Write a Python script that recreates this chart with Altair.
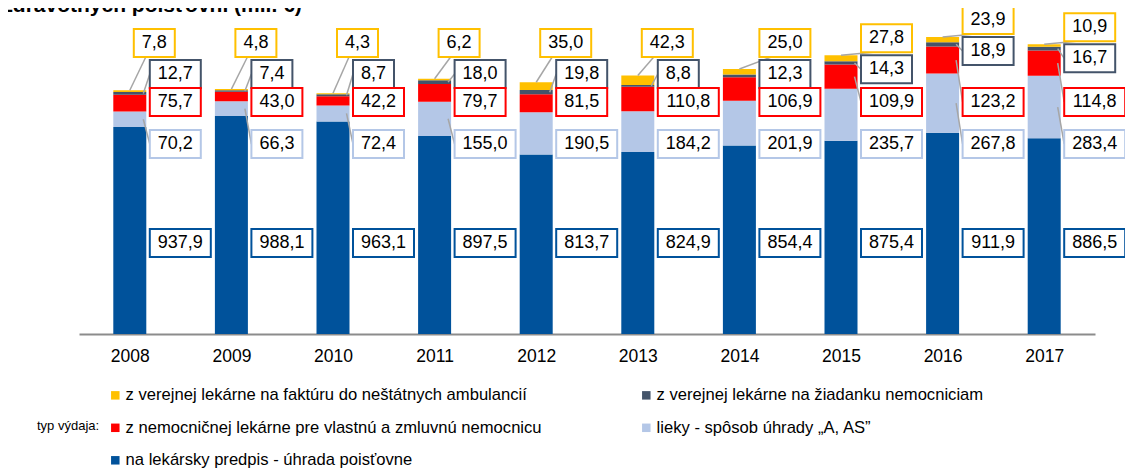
import altair as alt
import pandas as pd

# ---------------- data ----------------
years = [2008, 2009, 2010, 2011, 2012, 2013, 2014, 2015, 2016, 2017]

s_yellow = [7.8, 4.8, 4.3, 6.2, 35.0, 42.3, 25.0, 27.8, 23.9, 10.9]
s_dark = [12.7, 7.4, 8.7, 18.0, 19.8, 8.8, 12.3, 14.3, 18.9, 16.7]
s_red = [75.7, 43.0, 42.2, 79.7, 81.5, 110.8, 106.9, 109.9, 123.2, 114.8]
s_lightblue = [70.2, 66.3, 72.4, 155.0, 190.5, 184.2, 201.9, 235.7, 267.8, 283.4]
s_blue = [937.9, 988.1, 963.1, 897.5, 813.7, 824.9, 854.4, 875.4, 911.9, 886.5]

series_names = [
    "z verejnej lekárne na faktúru do neštátnych ambulancií",
    "z verejnej lekárne na žiadanku nemocniciam",
    "z nemocničnej lekárne pre vlastnú a zmluvnú nemocnicu",
    "lieky - spôsob úhrady „A, AS”",
    "na lekársky predpis - úhrada poisťovne",
]
series_colors = ["#FFC000", "#44546A", "#FF0000", "#B4C7E7", "#00529B"]
series_values = [s_yellow, s_dark, s_red, s_lightblue, s_blue]

title_text = "Zdravotných poisťovní (mil. €)"
legend_caption = "typ výdaja:"

# ---------------- layout constants ----------------
FONT = "Liberation Sans"
PLOT_W = 1016
PLOT_H = 309
Y_MAX = 1400
X_MIN, X_MAX = 2007.5, 2017.5
XU = (X_MAX - X_MIN) / PLOT_W      # year-units per pixel
YU = Y_MAX / PLOT_H                # value-units per pixel
BAR_W = 33
BOX_H = 28


def ypx_to_units(py):
    return (PLOT_H - py) * YU


def units_to_ypx(u):
    return PLOT_H - u / YU


def fmt(v):
    return f"{v:.1f}".replace(".", ",")


def text_w(s):
    return sum(5.0 if ch == "," else 10.0 for ch in s)


# stacking order: bottom -> top
stack_order = [4, 3, 2, 1, 0]  # indices into series lists (blue first)

bar_rows = []
label_rows = []
line_rows = []
for i, yr in enumerate(years):
    cum = 0.0
    seg = {}
    for k, si in enumerate(stack_order):
        v = series_values[si][i]
        bar_rows.append({"year": yr, "series": series_names[si], "value": v, "ord": k})
        seg[si] = (cum, cum + v)
        cum += v
    top_py = units_to_ypx(cum)
    yellow_py = min(18, top_py - 17)
    rows_py = {0: yellow_py, 1: yellow_py + 31, 2: 77, 3: 119, 4: 218}
    for si in range(5):
        v = series_values[si][i]
        lab = fmt(v)
        bw = text_w(lab) + 16
        if si == 0:
            # yellow label sits above the bar when there is room, further right otherwise
            off = 4 if top_py > 45 else 20
        else:
            off = 20
        py = rows_py[si]
        x1 = yr + off * XU
        x2 = yr + (off + bw) * XU
        label_rows.append({
            "series": series_names[si], "label": lab,
            "x1": x1, "x2": x2, "xc": (x1 + x2) / 2,
            "yc": ypx_to_units(py),
            "y1": ypx_to_units(py + BOX_H / 2), "y2": ypx_to_units(py - BOX_H / 2),
        })
        lo, hi = seg[si]
        if si == 0:
            line_rows.append({"lx1": yr, "ly1": hi,
                              "lx2": yr + (off + 12) * XU, "ly2": ypx_to_units(py + BOX_H / 2)})
        else:
            lo_py, hi_py = units_to_ypx(lo), units_to_ypx(hi)
            if py < hi_py - 4 or py > lo_py + 4:
                mid = (lo + hi) / 2
                line_rows.append({"lx1": yr + (BAR_W / 2 - 3) * XU, "ly1": mid,
                                  "lx2": x1, "ly2": ypx_to_units(py)})

bars_df = pd.DataFrame(bar_rows)
labels_df = pd.DataFrame(label_rows)
lines_df = pd.DataFrame(line_rows)

# legend is filled column by column: column 1 = yellow, red, blue; column 2 = dark, light blue
legend_order = [0, 2, 4, 1, 3]
legend_domain = [series_names[j] for j in legend_order]
legend_range = [series_colors[j] for j in legend_order]

xscale = alt.Scale(domain=[X_MIN, X_MAX], nice=False, zero=False, padding=0)
yscale = alt.Scale(domain=[0, Y_MAX], nice=False)
cscale = alt.Scale(domain=legend_domain, range=legend_range)

bars = alt.Chart(bars_df).mark_bar(size=BAR_W).encode(
    x=alt.X("year:Q", scale=xscale, title=None,
            axis=alt.Axis(values=years, format="d", grid=False, ticks=False,
                          domainColor="#8C8C8C", domainWidth=2,
                          labelFont=FONT, labelFontSize=17.5, labelColor="#000000",
                          labelPadding=13)),
    y=alt.Y("value:Q", stack="zero", scale=yscale, axis=None),
    color=alt.Color("series:N", scale=cscale,
                    legend=alt.Legend(orient="none", legendX=28, legendY=362,
                                      columns=2, title=None, padding=0,
                                      symbolType="square", symbolSize=72,
                                      symbolStrokeWidth=0,
                                      labelFont=FONT, labelFontSize=16.6,
                                      labelColor="#000000", labelLimit=0,
                                      labelOffset=2,
                                      columnPadding=96, rowPadding=15.5)),
    order=alt.Order("ord:Q", sort="ascending"),
)

lines = alt.Chart(lines_df).mark_rule(color="#A6A6A6", strokeWidth=1.5).encode(
    x=alt.X("lx1:Q", scale=xscale, title=None),
    x2="lx2:Q",
    y=alt.Y("ly1:Q", scale=yscale, axis=None),
    y2="ly2:Q",
)

boxes = alt.Chart(labels_df).mark_rect(fill="white", strokeWidth=2).encode(
    x=alt.X("x1:Q", scale=xscale, title=None),
    x2="x2:Q",
    y=alt.Y("y1:Q", scale=yscale, axis=None),
    y2="y2:Q",
    stroke=alt.Stroke("series:N", scale=cscale, legend=None),
)

texts = alt.Chart(labels_df).mark_text(font=FONT, fontSize=18, color="#000000",
                                       align="center", baseline="middle").encode(
    x=alt.X("xc:Q", scale=xscale, title=None),
    y=alt.Y("yc:Q", scale=yscale, axis=None),
    text="label:N",
)

caption = alt.Chart(pd.DataFrame({"t": [legend_caption]})).mark_text(
    font=FONT, fontSize=13, color="#000000", align="left", baseline="middle"
).encode(x=alt.value(-42), y=alt.value(401), text="t:N")

title = alt.Chart(pd.DataFrame({"t": [title_text]})).mark_text(
    font=FONT, fontSize=21, fontWeight="bold", color="#000000",
    align="left", baseline="alphabetic"
).encode(x=alt.value(-79), y=alt.value(-13), text="t:N")

chart = alt.layer(bars, lines, boxes, texts, caption, title).properties(
    width=PLOT_W, height=PLOT_H,
    autosize=alt.AutoSizeParams(type="none"),
    padding={"left": 71, "top": 17, "right": 30, "bottom": 134},
).configure_view(stroke=None)

chart.save("out.html", embed_options={"renderer": "svg", "actions": False})
